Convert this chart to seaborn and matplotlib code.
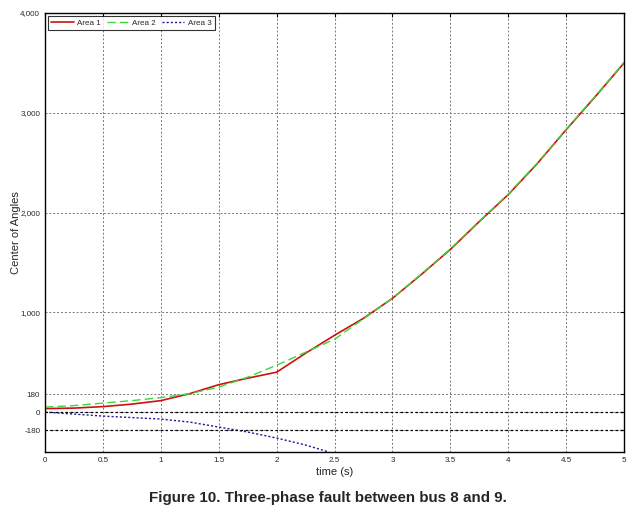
import numpy as np
import pandas as pd
import matplotlib
matplotlib.use('Agg')
import matplotlib.pyplot as plt
import seaborn as sns

# valeurs
temps = [0, 0.25, 0.5, 0.75, 1, 1.25, 1.5, 1.75, 2, 2.25, 2.5, 2.75, 3,
         3.25, 3.5, 3.75, 4, 4.25, 4.5, 4.75, 5]
area1 = [35, 40, 55, 80, 115, 185, 275, 340, 400, 590, 770, 940, 1140,
         1380, 1630, 1910, 2180, 2490, 2830, 3160, 3500]
area2 = [50, 65, 90, 115, 145, 185, 250, 350, 470, 600, 730, 935, 1140,
         1385, 1635, 1915, 2185, 2495, 2835, 3165, 3505]
temps3 = [0, 0.25, 0.5, 0.75, 1, 1.25, 1.5, 1.75, 2, 2.25, 2.45]
area3 = [0, -20, -40, -55, -70, -100, -150, -200, -260, -330, -400]

yticks = [-180, 0, 180, 1000, 2000, 3000, 4000]
ytick_labels = ['-180', '0', '180', '1,000', '2,000', '3,000', '4,000']
xticks = [0, 0.5, 1, 1.5, 2, 2.5, 3, 3.5, 4, 4.5, 5]
xtick_labels = ['0', '0.5', '1', '1.5', '2', '2.5', '3', '3.5', '4', '4.5', '5']

sns.set_style('white')
plt.rcParams['font.family'] = ['Liberation Sans', 'DejaVu Sans']

fig = plt.figure(figsize=(6.37, 5.18), dpi=100)
ax = fig.add_axes([0.0707, 0.1274, 0.909, 0.8475])

sns.lineplot(x=temps, y=area1, color='#d01010', linewidth=1.2, label='Area 1', ax=ax)
sns.lineplot(x=temps, y=area2, color='#33dd33', linewidth=1.0, linestyle=(0, (6, 3)),
             label='Area 2', ax=ax)
sns.lineplot(x=temps3, y=area3, color='#1a1a99', linewidth=1.0, linestyle=(0, (1.5, 1.5)),
             label='Area 3', ax=ax)

ax.set_xlim(0, 5)
ax.set_ylim(-400, 4000)
ax.set_xticks(xticks)
ax.set_xticklabels(xtick_labels)
ax.set_yticks(yticks)
ax.set_yticklabels(ytick_labels)
ax.tick_params(direction='in', length=3, width=0.8, labelsize=5.8, color='black',
               top=True, right=True)
ax.grid(True, color='#777777', linestyle=(0, (2, 2)), linewidth=0.7)
ax.axhline(0, color='black', linestyle=(0, (2, 2)), linewidth=0.9)
ax.axhline(-180, color='black', linestyle=(0, (2, 2)), linewidth=0.9)
for s in ax.spines.values():
    s.set_color('black')
    s.set_linewidth(1.0)

ax.set_xlabel('time (s)', fontsize=8, labelpad=2)
ax.set_ylabel('Center of Angles', fontsize=8)
ax.yaxis.set_label_coords(-0.042, 0.5)

leg = ax.legend(loc='upper left', ncol=3, fontsize=5.8, frameon=True, fancybox=False,
                edgecolor='black', handlelength=2.8, columnspacing=0.7,
                borderaxespad=0.4, handletextpad=0.4)
leg.get_frame().set_linewidth(0.8)

fig.text(0.515, 0.038, 'Figure 10. Three-phase fault between bus 8 and 9.',
         ha='center', va='center', fontsize=10.9, fontweight='bold')

fig.savefig('out.png', dpi=100, facecolor='white')
